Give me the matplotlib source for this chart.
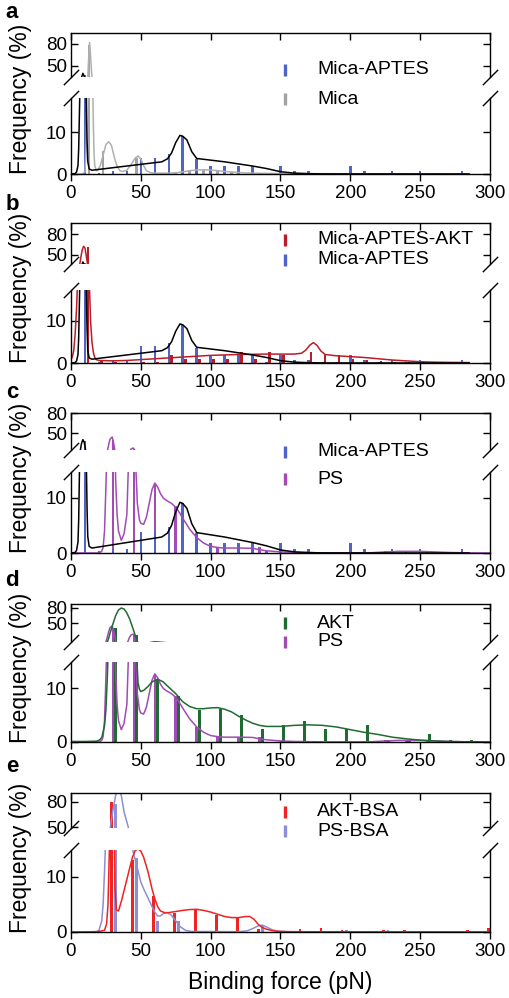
import matplotlib.pyplot as plt
from matplotlib.lines import Line2D

plt.rcParams['font.family'] = ['Liberation Sans', 'DejaVu Sans']

# ---- data (binding force in pN, frequency in %) ----
xticks = [0, 50, 100, 150, 200, 250, 300]

# Mica-APTES (panels a, b, c)
mica_aptes_x = [10, 20, 30, 40, 50, 60, 70, 80, 90, 100, 110, 120, 130, 140,
                150, 160, 170, 180, 190, 200, 210, 220, 230, 240, 250, 260, 270, 280]
mica_aptes_y = [38, 0.3, 0.8, 0.8, 3.9, 3.9, 4.8, 9.0, 3.6, 1.8, 1.8, 1.8, 1.8, 0.3,
                1.8, 0.8, 0.8, 0.2, 0.2, 1.8, 0.8, 0.2, 0.8, 0.2, 0.8, 0.2, 0.2, 0.8]
ma_fit_x = [0, 3, 4, 5, 5.5, 6, 6.5, 7.5, 8.5, 9.5, 10.5, 11, 11.5, 12, 13, 15, 20, 30, 40, 50,
            60, 65, 69, 72, 75, 78, 80, 83, 86.5, 90, 95, 100, 110, 120, 130, 140, 150, 160,
            170, 180, 285]
ma_fit_y = [0, 0.1, 0.5, 2, 6, 14, 22, 34, 40, 36, 24, 16, 8, 3, 1.2, 0.9, 1.1, 1.5, 1.9, 2.3,
            2.7, 2.9, 3.6, 5.0, 7.5, 9.2, 9.0, 8.1, 5.3, 3.7, 3.5, 3.3, 2.9, 2.4, 1.9, 1.3, 0.55,
            0.2, 0.08, 0.02, 0]

# Mica (panel a)
mica_x = [13, 23, 47, 65, 75, 85, 95, 105, 115]
mica_y = [78, 5.5, 3.8, 0.3, 0.3, 0.8, 1.0, 0.9, 0.5]
mica_fit_x = [0, 8, 10, 11, 11.5, 12, 12.5, 13.3, 14, 14.5, 15, 15.5, 16, 16.5, 17, 18, 19, 21,
              23, 25, 27, 29, 31, 33, 35, 37, 40, 43, 46, 48, 50, 52, 54, 57, 60, 70, 75, 80,
              85, 90, 95, 100, 105, 110, 120, 130, 150, 200, 285]
mica_fit_y = [0, 0, 0.5, 8, 20, 35, 55, 82, 65, 48, 35, 22, 12, 5, 2, 0.8, 0.8, 2, 4.5, 7, 7.7,
              6.8, 4, 1.8, 0.8, 0.6, 0.9, 2.2, 3.8, 4.3, 3.6, 2, 0.8, 0.3, 0.2, 0.2, 0.3, 0.5,
              0.8, 0.95, 1.0, 0.95, 0.8, 0.6, 0.35, 0.2, 0.1, 0.05, 0]

# Mica-APTES-AKT (panel b)
mica_akt_x = [12, 22, 32, 42, 52, 62, 72, 82, 92, 102, 112, 122, 132, 142, 152, 162, 172,
              182, 192, 202, 212, 222, 232, 242, 252, 262, 272, 282]
mica_akt_y = [61, 0.7, 0.2, 0.1, 0.2, 0.3, 1.8, 1.0, 1.0, 1.0, 1.0, 2.7, 1.0, 2.7, 1.8, 0.3,
              2.6, 1.8, 1.8, 1.0, 0.8, 0.5, 0.3, 0.2, 0.2, 0.2, 0.3, 0.3]
mica_akt_fit_x = [0, 1, 2, 3, 4, 5, 6, 7, 8, 9, 10, 11, 12, 13, 14, 15, 16, 17, 18, 20, 30,
                  40, 50, 60, 70, 80, 90, 100, 120, 140, 160, 165, 168, 171, 173.5, 176, 179,
                  182, 190, 200, 210, 220, 230, 240, 250, 260, 270, 285]
mica_akt_fit_y = [0.8, 1.5, 3, 7, 13, 22, 33, 46, 57, 62.5, 60, 48, 34, 20, 10, 5, 2.5, 1.3,
                  0.8, 0.6, 0.5, 0.6, 0.8, 1.0, 1.2, 1.4, 1.6, 1.8, 2.0, 2.1, 2.1, 2.3, 3.0,
                  4.2, 4.8, 4.2, 2.8, 2.0, 1.7, 1.5, 1.3, 1.0, 0.7, 0.5, 0.3, 0.2, 0.15, 0.1]

# PS (panels c, d)
ps_x = [30, 45, 60, 75, 90, 105, 120, 135, 150, 165, 180, 195, 210, 225, 240, 255, 270, 285]
ps_y = [40, 26, 12.5, 8.5, 2.8, 1.0, 1.0, 1.0, 0.1, 0.05, 0.05, 0.05, 0.05, 0.3, 0.2, 0.2,
        0.05, 0.05]
ps_fit_x = [0, 20, 22, 23, 24, 25, 26, 27, 28, 29.5, 31, 31.5, 32, 33, 34, 36, 38, 40, 41, 42,
            43, 44.5, 45.5, 46.5, 47.5, 49, 50, 52, 54, 56, 58, 60, 62, 64, 66, 68, 70, 72, 75,
            78, 80, 85, 90, 95, 100, 105, 110, 120, 130, 135, 140, 150, 160, 180, 200, 215,
            225, 235, 250, 260, 270, 280, 300]
ps_fit_y = [0, 0, 0.3, 1, 4, 12, 22, 33, 41, 44, 30, 20, 13, 7, 4, 2.3, 3.5, 7, 15, 22, 26,
            27.5, 25, 15, 9, 6, 5.4, 5.2, 6.5, 9, 11.5, 12.7, 12, 10.8, 10, 9.6, 9.3, 9.0, 8.3,
            7.2, 6.3, 4.3, 2.8, 1.8, 1.2, 1.0, 0.9, 0.9, 0.85, 0.6, 0.4, 0.2, 0.1, 0.03, 0.02,
            0.05, 0.2, 0.3, 0.3, 0.2, 0.1, 0.05, 0]

# AKT (panel d)
akt_x = [32, 47, 62, 77, 92, 107, 122, 137, 152, 167, 182, 197, 212, 227, 242, 257, 272, 287]
akt_y = [40, 26, 11.5, 8.6, 5.9, 6.1, 5.1, 2.5, 3.1, 4.0, 2.5, 2.5, 3.1, 0.3, 0.2, 1.5, 0.4, 0.4]
akt_fit_x = [0, 10, 18, 20, 22, 24, 25, 26, 27, 28, 30, 32, 34, 36, 38, 40, 42, 44, 46, 47,
             48, 49, 50, 52, 55, 58, 62, 66, 70, 75, 80, 85, 90, 95, 100, 105, 110, 115, 120,
             125, 130, 135, 140, 150, 160, 170, 180, 190, 200, 210, 220, 230, 240, 250, 260,
             270, 280, 300]
akt_fit_y = [0.1, 0.1, 0.15, 0.3, 0.8, 3, 6, 12, 20, 30, 48, 65, 76, 80, 78, 70, 58, 42, 25,
             16, 11, 9.8, 9.4, 9.6, 10.3, 11.2, 11.7, 11.2, 10.2, 9.0, 7.5, 6.6, 6.2, 6.2, 6.35,
             6.4, 6.1, 5.6, 4.8, 4.1, 3.5, 3.1, 2.9, 2.9, 3.1, 3.2, 3.1, 2.8, 2.3, 1.8, 1.4,
             0.9, 0.6, 0.35, 0.2, 0.1, 0.05, 0]

# AKT-BSA (panel e)
akt_bsa_x = [29, 44, 59, 74, 89, 104, 119, 134, 149, 164, 179, 194, 209, 224, 239, 254, 269,
             284, 299]
akt_bsa_y = [80, 13, 6.5, 3.4, 4.1, 3.0, 2.5, 0.5, 0.1, 0.5, 0.8, 0.4, 0.2, 0.4, 0.4, 0.2, 0.2,
             0.4, 0.8]
akt_bsa_fit_x = [0, 15, 20, 24, 25.5, 26.5, 27.5, 28.5, 29.5, 30.5, 31.5, 32.5, 34, 36, 38, 40,
                 42, 44, 46, 48, 50, 52, 55, 58, 60, 62, 64, 67, 70, 75, 80, 85, 90, 95, 100,
                 105, 110, 115, 120, 125, 128, 131, 134, 137, 140, 145, 150, 160, 300]
akt_bsa_fit_y = [0, 0.05, 0.1, 0.3, 1.5, 5, 15, 30, 40, 25, 8, 4, 3.8, 5.5, 7.5, 9.5, 11.5,
                 13.5, 14.7, 15, 14.6, 13.5, 11, 7.8, 6, 4.6, 3.8, 3.5, 3.5, 3.7, 3.9, 4.05,
                 4.1, 3.9, 3.6, 3.2, 2.8, 2.6, 2.6, 2.8, 2.8, 2.3, 1.4, 0.8, 0.5, 0.2, 0.1, 0.05, 0]

# PS-BSA (panel e)
ps_bsa_x = [32, 47, 62, 77, 92, 107, 122, 137, 152, 167, 182, 197, 212, 227, 242, 257, 272, 287]
ps_bsa_y = [78, 13.3, 1.9, 1.9, 0.2, 0.1, 0.1, 1.0, 0.1, 0.1, 0.1, 0.3, 0.1, 0.4, 0.1, 0.2,
            0.2, 0.1]
ps_bsa_fit_x = [0, 18, 20, 22, 23, 24, 25, 26, 28, 30, 32, 34, 36, 38, 40, 41, 42, 43, 44, 46,
                48, 50, 52, 55, 58, 60, 62, 64, 66, 69, 72, 75, 78, 82, 86, 120, 126, 130, 134,
                137, 140, 144, 148, 155, 300]
ps_bsa_fit_y = [0, 0, 0.3, 2, 5, 11, 18, 27, 48, 70, 88, 97, 88, 68, 56, 50, 35, 20, 15, 13,
                11, 9, 7.8, 6.2, 4.6, 3.6, 2.9, 2.9, 3.3, 3.5, 3.0, 2.0, 1.0, 0.3, 0.1, 0.05,
                0.2, 0.6, 1.1, 1.25, 0.9, 0.4, 0.15, 0.05, 0]

# colours
BLUE = '#5064c8'
GREY = '#a3a3a3'
DARKRED = '#b81e2a'
PURPLE = '#a24bb5'
GREEN = '#1f6b32'
RED = '#f02222'
LAV = '#8e8ed8'

W, H = 510, 998
fig = plt.figure(figsize=(W / 100, H / 100), dpi=100)


def add_ax(y0, y1):
    return fig.add_axes([71 / W, 1 - y1 / H, 419 / W, (y1 - y0) / H])


def fy(ypx):
    return 1 - ypx / H


def panel(rows, top_lim, low_lim, bars, curves, legend, letter_y):
    ax_t = add_ax(*rows[0])
    ax_l = add_ax(*rows[1])
    for ax in (ax_t, ax_l):
        for bx, by, w, c in bars:
            ax.bar(bx, by, width=w, color=c, linewidth=0)
        for cx, cy, c in curves:
            ax.plot(cx, cy, color=c, lw=1.1)
        ax.set_xlim(0, 300)
        ax.set_xticks(xticks)
        for s in ax.spines.values():
            s.set_linewidth(1.0)
    ax_t.set_ylim(*top_lim)
    ax_l.set_ylim(*low_lim)
    ax_t.spines['bottom'].set_visible(False)
    ax_l.spines['top'].set_visible(False)

    ax_t.set_yticks([50, 80])
    ax_t.tick_params(axis='y', direction='in', left=True, right=True, length=5, width=1,
                     labelsize=13.5, pad=3)
    ax_t.tick_params(axis='x', direction='in', top=True, bottom=False, labeltop=False,
                     labelbottom=False, length=5, width=1)
    ax_l.set_yticks([0, 10])
    ax_l.tick_params(axis='y', direction='in', left=True, right=True, length=5, width=1,
                     labelsize=13.5, pad=3)
    ax_l.tick_params(axis='x', direction='out', length=5, width=1, labelsize=13.5, pad=3)

    # break marks
    kw = dict(marker=[(-1, -1), (1, 1)], markersize=11, linestyle='none', color='k',
              mec='k', mew=1, clip_on=False)
    ax_t.plot([0, 1], [0, 0], transform=ax_t.transAxes, **kw)
    ax_l.plot([0, 1], [1, 1], transform=ax_l.transAxes, **kw)

    for (lab, col), ypx in legend:
        fig.add_artist(Line2D([285 / W], [fy(ypx)], marker='|', markersize=8, mew=2.4,
                              color=col, linestyle='none', transform=fig.transFigure))
        fig.text(317 / W, fy(ypx), lab, fontsize=14, va='center', ha='left')

    yc = (rows[0][0] + rows[1][1]) / 2 - 5
    fig.text(21 / W, fy(yc), 'Frequency (%)', rotation=90, fontsize=16.5,
             ha='center', va='center')
    fig.text(12 / W, fy(letter_y[1]), letter_y[0], fontsize=16, fontweight='bold',
             ha='center', va='center')


panel(((33, 77), (98, 174)), (35, 95), (0, 18.1),
      [(mica_x, mica_y, 1.8, GREY), (mica_aptes_x, mica_aptes_y, 1.8, BLUE)],
      [(mica_fit_x, mica_fit_y, '#b0b0b0'), (ma_fit_x, ma_fit_y, 'k')],
      [(('Mica-APTES', BLUE), 70), (('Mica', GREY), 99)], ('a', 13))

panel(((223, 264), (290, 363)), (37, 96), (0, 17.2),
      [(mica_aptes_x, mica_aptes_y, 1.8, BLUE), (mica_akt_x, mica_akt_y, 1.8, DARKRED)],
      [(mica_akt_fit_x, mica_akt_fit_y, DARKRED), (ma_fit_x, ma_fit_y, 'k')],
      [(('Mica-APTES-AKT', DARKRED), 240), (('Mica-APTES', BLUE), 260)], ('b', 204))

panel(((413, 450), (472, 553)), (24.5, 80), (0, 14.7),
      [(ps_x, ps_y, 1.8, PURPLE), (mica_aptes_x, mica_aptes_y, 1.8, BLUE)],
      [(ps_fit_x, ps_fit_y, PURPLE), (ma_fit_x, ma_fit_y, 'k')],
      [(('Mica-APTES', BLUE), 452), (('PS', PURPLE), 479)], ('c', 393))

panel(((604, 642), (662, 742)), (12, 88), (0, 14.9),
      [(ps_x, ps_y, 1.8, PURPLE), (akt_x, akt_y, 2.2, GREEN)],
      [(ps_fit_x, ps_fit_y, PURPLE), (akt_fit_x, akt_fit_y, GREEN)],
      [(('AKT', GREEN), 623), (('PS', PURPLE), 642)], ('d', 580))

panel(((793, 828), (850, 932)), (48.8, 90.8), (0, 14.8),
      [(ps_bsa_x, ps_bsa_y, 2.0, LAV), (akt_bsa_x, akt_bsa_y, 2.0, RED)],
      [(ps_bsa_fit_x, ps_bsa_fit_y, LAV), (akt_bsa_fit_x, akt_bsa_fit_y, RED)],
      [(('AKT-BSA', RED), 812), (('PS-BSA', LAV), 831)], ('e', 767))

fig.text(280.5 / W, fy(982), 'Binding force (pN)', fontsize=16.5, ha='center', va='center')

fig.savefig('out.png', dpi=100)
